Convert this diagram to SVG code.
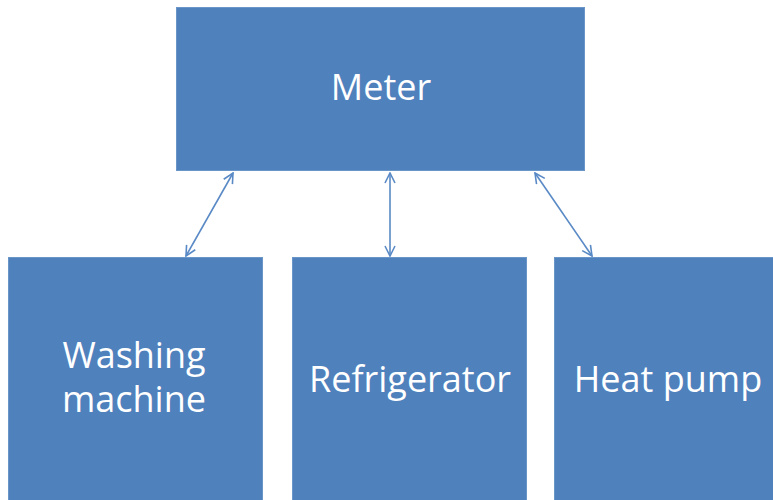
<svg xmlns="http://www.w3.org/2000/svg" width="773" height="500" viewBox="0 0 773 500">
  <defs>
    <style>
      .box { fill: #4F81BD; stroke: #6A95C9; stroke-width: 1; }
      .label { fill: #FFFFFF; font-family: "Open Sans", "Noto Sans", sans-serif; font-size: 36px; text-anchor: middle; }
      .link { stroke: #5A8AC6; stroke-width: 1.6; fill: none; marker-start: url(#tip); marker-end: url(#tip); }
    </style>
    <marker id="tip" viewBox="0 0 12 12" refX="11" refY="6" markerWidth="12" markerHeight="12" markerUnits="userSpaceOnUse" orient="auto-start-reverse">
      <path d="M1,1 L11,6 L1,11" fill="none" stroke="#5A8AC6" stroke-width="1.6"/>
    </marker>
  </defs>

  <g id="meter">
    <rect class="box" x="176.5" y="7.5" width="408" height="163"/>
    <text class="label" x="381" y="100">Meter</text>
  </g>

  <g id="washing-machine">
    <rect class="box" x="8.5" y="257.5" width="254" height="250"/>
    <text class="label" x="134" y="368">Washing<tspan x="134" dy="44">machine</tspan></text>
  </g>

  <g id="refrigerator">
    <rect class="box" x="292.5" y="257.5" width="234" height="250"/>
    <text class="label" x="410" y="392">Refrigerator</text>
  </g>

  <g id="heat-pump">
    <rect class="box" x="554.5" y="257.5" width="230" height="250"/>
    <text class="label" x="668" y="392">Heat pump</text>
  </g>

  <g id="connectors">
    <line class="link" x1="233" y1="173" x2="186" y2="256"/>
    <line class="link" x1="390" y1="173" x2="390" y2="256"/>
    <line class="link" x1="535" y1="173" x2="592" y2="256"/>
  </g>
</svg>
